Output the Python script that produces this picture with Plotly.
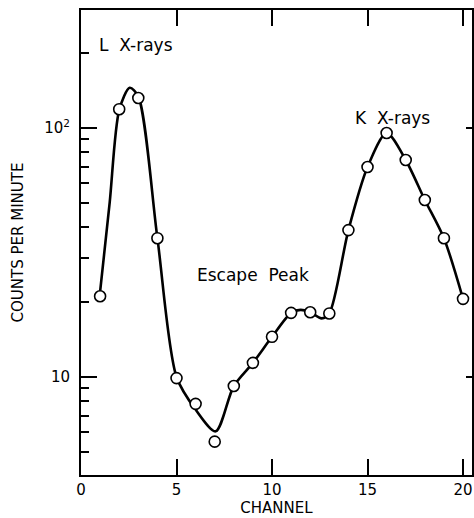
import plotly.graph_objects as go

# measured points (channel, counts per minute)
channel = [1, 2, 3, 4, 5, 6, 7, 8, 9, 10, 11, 12, 13, 14, 15, 16, 17, 18, 19, 20]
counts = [21.1, 119, 132, 36.1, 9.9, 7.8, 5.5, 9.2, 11.4, 14.5, 18.1, 18.2, 18.0,
          38.9, 69.7, 95.5, 74.4, 51.4, 36.1, 20.6]

# hand-drawn smooth curve
curve_x = [1.0, 1.5, 2.0, 2.55, 3.0, 4.0, 5.0, 6.0, 7.05, 8.0, 9.0, 10.0, 11.0, 11.5,
           12.0, 12.6, 13.0, 14.0, 15.0, 16.0, 17.0, 18.0, 19.0, 20.0]
curve_y = [22.0, 50, 118, 145, 134, 36.1, 10.0, 7.4, 6.05, 9.2, 11.4, 14.5, 18.1, 18.6,
           18.2, 17.2, 18.0, 38.9, 69.7, 95.5, 74.4, 51.4, 36.1, 20.6]

x_ticks = [0, 5, 10, 15, 20]
x_top_ticks = [5, 10, 15, 20]
y_ticks = [10, 100]
y_ticktext = ["10", "10<sup>2</sup>"]
y_minor = [5, 6, 7, 8, 9, 20, 30, 40, 50, 60, 70, 80, 90, 200]

FONT = "DejaVu Sans"
x_range = [0, 20.47]
y_range = [0.6064, 2.4739]

fig = go.Figure()
fig.add_trace(go.Scatter(x=curve_x, y=curve_y, mode="lines",
                         line=dict(color="black", width=2.6, shape="spline", smoothing=0.8),
                         hoverinfo="skip", showlegend=False))
fig.add_trace(go.Scatter(x=channel, y=counts, mode="markers",
                         marker=dict(size=11, color="white",
                                     line=dict(color="black", width=1.6)),
                         showlegend=False))
# invisible trace to host top/right tick axes
fig.add_trace(go.Scatter(x=[channel[0]], y=[counts[0]], xaxis="x2", yaxis="y2",
                         mode="markers", marker=dict(opacity=0), showlegend=False,
                         hoverinfo="skip"))

fig.update_layout(
    width=474, height=518,
    margin=dict(l=81, r=0, t=10, b=43),
    paper_bgcolor="white", plot_bgcolor="white",
    font=dict(family=FONT, color="black", size=15),
    xaxis=dict(range=x_range, showgrid=False, zeroline=False,
               showline=True, linecolor="black", linewidth=2, mirror=True,
               ticks="inside", ticklen=16, tickwidth=1.5, tickcolor="black",
               tickvals=x_ticks, ticktext=[str(v) for v in x_ticks],
               tickfont=dict(size=15),
               title=dict(text="CHANNEL", font=dict(size=15), standoff=4)),
    yaxis=dict(type="log", range=y_range, showgrid=False, zeroline=False,
               showline=True, linecolor="black", linewidth=2, mirror=True,
               ticks="inside", ticklen=16, tickwidth=1.5, tickcolor="black",
               tickvals=y_ticks, ticktext=y_ticktext, tickfont=dict(size=15),
               ticklabelstandoff=6,
               minor=dict(ticks="inside", ticklen=8, tickwidth=1.5,
                          tickcolor="black", tickvals=y_minor, showgrid=False),
               title=dict(text="COUNTS PER MINUTE", font=dict(size=15), standoff=17)),
    xaxis2=dict(overlaying="x", side="top", range=x_range, showgrid=False,
                zeroline=False, showline=False, ticks="inside", ticklen=16,
                tickwidth=1.5, tickcolor="black", tickvals=x_top_ticks,
                showticklabels=False),
    yaxis2=dict(overlaying="y", side="right", type="log", range=y_range,
                showgrid=False, zeroline=False, showline=False, ticks="inside",
                ticklen=6, tickwidth=1.5, tickcolor="black", tickvals=y_ticks,
                showticklabels=False),
    annotations=[
        dict(x=2.86, y=2.333, xref="x", yref="y", text="L\u00a0\u00a0X-rays",
             showarrow=False, font=dict(size=17)),
        dict(x=16.3, y=2.04, xref="x", yref="y", text="K\u00a0\u00a0X-rays",
             showarrow=False, font=dict(size=17)),
        dict(x=9.0, y=1.41, xref="x", yref="y", text="Escape\u00a0\u00a0Peak",
             showarrow=False, font=dict(size=17)),
    ],
)

fig.write_html("out.html")
